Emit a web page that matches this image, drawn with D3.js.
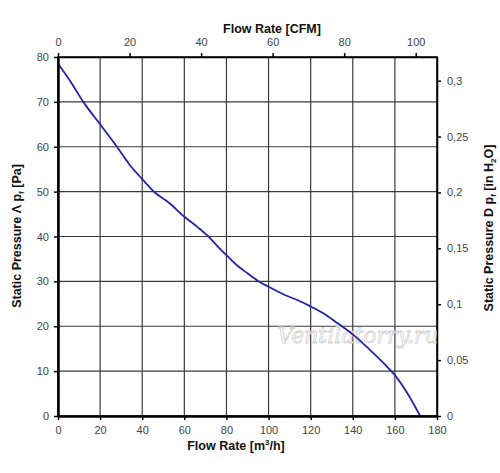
<!DOCTYPE html>
<html>
<head>
<meta charset="utf-8">
<script src="https://cdn.jsdelivr.net/npm/d3@7"></script>
<style>
  body { margin: 0; background: #fff; }
  svg { font-family: "Liberation Sans", Arial, sans-serif; }
  .tick text { fill: #444; font-size: 11px; }
</style>
</head>
<body>
<script>
const width = 500;
const height = 473;

// fan curve: flow [m3/h] vs static pressure [Pa]
const flow = [0, 6, 12, 20, 28, 34, 40, 46, 53, 60, 66, 71, 76, 81, 85, 90, 95, 100, 108, 114, 120, 126, 133, 140, 148, 155, 160, 166, 172];
const pressure = [78.5, 74.5, 70, 65, 60, 56, 52.8, 49.8, 47.4, 44.4, 42.2, 40.2, 37.7, 35.4, 33.6, 31.8, 30.1, 28.8, 26.9, 25.8, 24.4, 22.9, 20.6, 18.2, 14.8, 11.6, 9.1, 5, 0];

const flowTicks = [0, 20, 40, 60, 80, 100, 120, 140, 160, 180];
const cfmTicks = [0, 20, 40, 60, 80, 100];
const paTicks = [0, 10, 20, 30, 40, 50, 60, 70, 80];
const inchTicks = [0, 0.05, 0.1, 0.15, 0.2, 0.25, 0.3];

const M3H_PER_CFM = 1.699;
const PA_PER_INH2O = 249.09;

let margin = { top: 57, right: 63, bottom: 57, left: 58 };

let svg = d3
  .select("body")
  .append("svg")
  .attr("width", width)
  .attr("height", height);

let x = d3
  .scaleLinear()
  .domain([0, 180])
  .range([margin.left, width - margin.right]);

let y = d3
  .scaleLinear()
  .domain([0, 80])
  .range([height - margin.bottom, margin.top]);

let xTop = d3
  .scaleLinear()
  .domain([0, 180 / M3H_PER_CFM])
  .range(x.range());

let yRight = d3
  .scaleLinear()
  .domain([0, 80 / PA_PER_INH2O])
  .range(y.range());

// grid
svg
  .append("g")
  .selectAll("line")
  .data(flowTicks.slice(1, -1))
  .join("line")
  .attr("x1", (d) => x(d))
  .attr("x2", (d) => x(d))
  .attr("y1", y(0))
  .attr("y2", y(80))
  .attr("stroke", "#3a3a3a")
  .attr("stroke-width", 1.2);

svg
  .append("g")
  .selectAll("line")
  .data(paTicks.slice(1, -1))
  .join("line")
  .attr("x1", x(0))
  .attr("x2", x(180))
  .attr("y1", (d) => y(d))
  .attr("y2", (d) => y(d))
  .attr("stroke", "#3a3a3a")
  .attr("stroke-width", 1.2);

// frame
svg
  .append("rect")
  .attr("x", x(0))
  .attr("y", y(80))
  .attr("width", x(180) - x(0))
  .attr("height", y(0) - y(80))
  .attr("fill", "none")
  .attr("stroke", "#000")
  .attr("stroke-width", 1.5);

// watermark
svg
  .append("text")
  .attr("x", 358)
  .attr("y", 343)
  .attr("text-anchor", "middle")
  .attr("font-family", "DejaVu Serif, serif")
  .attr("font-style", "italic")
  .attr("font-size", 22)
  .attr("fill", "#fff")
  .attr("stroke", "#cfcfcf")
  .attr("stroke-width", 0.8)
  .text("Ventilatorry.ru");

// curve
let points = flow.map((f, i) => ({ f: f, p: pressure[i] }));

svg
  .append("path")
  .datum(points)
  .attr("fill", "none")
  .attr("stroke", "#2323a8")
  .attr("stroke-width", 1.8)
  .attr("d", d3.line().x((d) => x(d.f)).y((d) => y(d.p)).curve(d3.curveMonotoneX));

// axes
function styleAxis(g, thick) {
  g.select(".domain").attr("stroke", "#000").attr("stroke-width", thick);
  g.selectAll(".tick line").attr("stroke", "#000").attr("stroke-width", 1.5);
}

svg
  .append("g")
  .attr("transform", `translate(0, ${y(0)})`)
  .call(d3.axisBottom(x).tickValues(flowTicks).tickSize(4).tickPadding(6).tickSizeOuter(0))
  .call((g) => styleAxis(g, 2.5));

svg
  .append("g")
  .attr("transform", `translate(${x(0)}, 0)`)
  .call(d3.axisLeft(y).tickValues(paTicks).tickSize(4).tickPadding(5).tickSizeOuter(0))
  .call((g) => styleAxis(g, 2.5));

svg
  .append("g")
  .attr("transform", `translate(0, ${y(80)})`)
  .call(d3.axisTop(xTop).tickValues(cfmTicks).tickSize(4).tickPadding(7).tickSizeOuter(0))
  .call((g) => styleAxis(g, 1.5));

svg
  .append("g")
  .attr("transform", `translate(${x(180)}, 0)`)
  .call(
    d3
      .axisRight(yRight)
      .tickValues(inchTicks)
      .tickSize(4)
      .tickPadding(6)
      .tickSizeOuter(0)
      .tickFormat((d) => String(d).replace(".", ","))
  )
  .call((g) => styleAxis(g, 1.5));

// titles
let title = (t) =>
  t.attr("font-weight", "bold").attr("font-size", 12.5).attr("fill", "#111").attr("text-anchor", "middle");

svg.append("text").attr("x", 272).attr("y", 33).call(title).text("Flow Rate [CFM]");

let bottomTitle = svg.append("text").attr("x", 236).attr("y", 450).call(title);
bottomTitle.append("tspan").text("Flow Rate [m");
bottomTitle.append("tspan").attr("font-size", 8).attr("dy", -5).text("3");
bottomTitle.append("tspan").attr("dy", 5).text("/h]");

let leftTitle = svg
  .append("text")
  .attr("transform", "translate(21, 236) rotate(-90)")
  .call(title);
leftTitle.append("tspan").text("Static Pressure Λ p");
leftTitle.append("tspan").attr("font-size", 8).attr("dy", 3).text("f");
leftTitle.append("tspan").attr("dy", -3).text(" [Pa]");

let rightTitle = svg
  .append("text")
  .attr("transform", "translate(493, 228) rotate(-90)")
  .call(title);
rightTitle.append("tspan").text("Static Pressure D p");
rightTitle.append("tspan").attr("font-size", 8).attr("dy", 3).text("f");
rightTitle.append("tspan").attr("dy", -3).text(" [in H");
rightTitle.append("tspan").attr("font-size", 8).attr("dy", 3).text("2");
rightTitle.append("tspan").attr("dy", -3).text("O]");
</script>
</body>
</html>
